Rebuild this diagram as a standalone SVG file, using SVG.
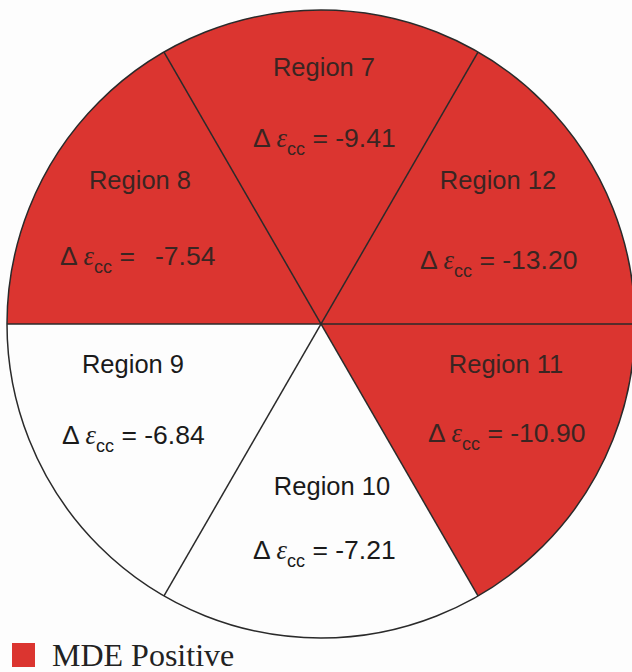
<svg xmlns="http://www.w3.org/2000/svg" width="632" height="672" viewBox="0 0 632 672">
<style>
.red{fill:#db3530}
.white{fill:#fdfdfd}
.lbl{font-family:"Liberation Sans",Arial,sans-serif;font-size:25.5px}
.val{font-family:"Liberation Sans",Arial,sans-serif;font-size:26.5px}
.onred{fill:#3a2522}
.onwhite{fill:#1a1a1a}
.eps{font-family:"Liberation Serif","Times New Roman",serif;font-style:italic}
.sub{font-size:18px}
.div{stroke:#2a2a2a;stroke-width:1.5;fill:none}
.legend{font-family:"Liberation Serif","Times New Roman",serif;font-size:32px;fill:#222}
</style>
<rect width="632" height="672" fill="#fdfdfd"/>
<g id="region7">
<path class="red" d="M321 324 L164 52.1 A314 314 0 0 1 478 52.1 Z"/>
<text class="lbl onred" x="324" y="76" text-anchor="middle">Region 7</text>
<text class="val onred" x="253" y="147">Δ <tspan class="eps">ε</tspan><tspan class="sub" dy="8">cc</tspan><tspan dy="-8"> = -9.41</tspan></text>
</g>
<g id="region8">
<path class="red" d="M321 324 L7 324 A314 314 0 0 1 164 52.1 Z"/>
<text class="lbl onred" x="140" y="189" text-anchor="middle">Region 8</text>
<text class="val onred" x="60" y="265">Δ <tspan class="eps">ε</tspan><tspan class="sub" dy="8">cc</tspan><tspan dy="-8"> =</tspan><tspan x="155">-7.54</tspan></text>
</g>
<g id="region12">
<path class="red" d="M321 324 L478 52.1 A314 314 0 0 1 635 324 Z"/>
<text class="lbl onred" x="498" y="189" text-anchor="middle">Region 12</text>
<text class="val onred" x="420" y="269">Δ <tspan class="eps">ε</tspan><tspan class="sub" dy="8">cc</tspan><tspan dy="-8"> = -13.20</tspan></text>
</g>
<g id="region11">
<path class="red" d="M321 324 L635 324 A314 314 0 0 1 478 595.9 Z"/>
<text class="lbl onred" x="506" y="373" text-anchor="middle">Region 11</text>
<text class="val onred" x="428" y="442">Δ <tspan class="eps">ε</tspan><tspan class="sub" dy="8">cc</tspan><tspan dy="-8"> = -10.90</tspan></text>
</g>
<g id="region10">
<path class="white" d="M321 324 L478 595.9 A314 314 0 0 1 164 595.9 Z"/>
<text class="lbl onwhite" x="332" y="495" text-anchor="middle">Region 10</text>
<text class="val onwhite" x="253" y="559">Δ <tspan class="eps">ε</tspan><tspan class="sub" dy="8">cc</tspan><tspan dy="-8"> = -7.21</tspan></text>
</g>
<g id="region9">
<path class="white" d="M321 324 L164 595.9 A314 314 0 0 1 7 324 Z"/>
<text class="lbl onwhite" x="133" y="373" text-anchor="middle">Region 9</text>
<text class="val onwhite" x="62" y="444">Δ <tspan class="eps">ε</tspan><tspan class="sub" dy="8">cc</tspan><tspan dy="-8"> = -6.84</tspan></text>
</g>
<g id="connectors">
<circle class="div" cx="321" cy="324" r="314"/>
<line class="div" x1="7" y1="324" x2="635" y2="324"/>
<line class="div" x1="164" y1="52.1" x2="478" y2="595.9"/>
<line class="div" x1="478" y1="52.1" x2="164" y2="595.9"/>
</g>
<g id="legend">
<rect class="red" x="12" y="643" width="23" height="24"/>
<text class="legend" x="52" y="666">MDE Positive</text>
</g>
</svg>
